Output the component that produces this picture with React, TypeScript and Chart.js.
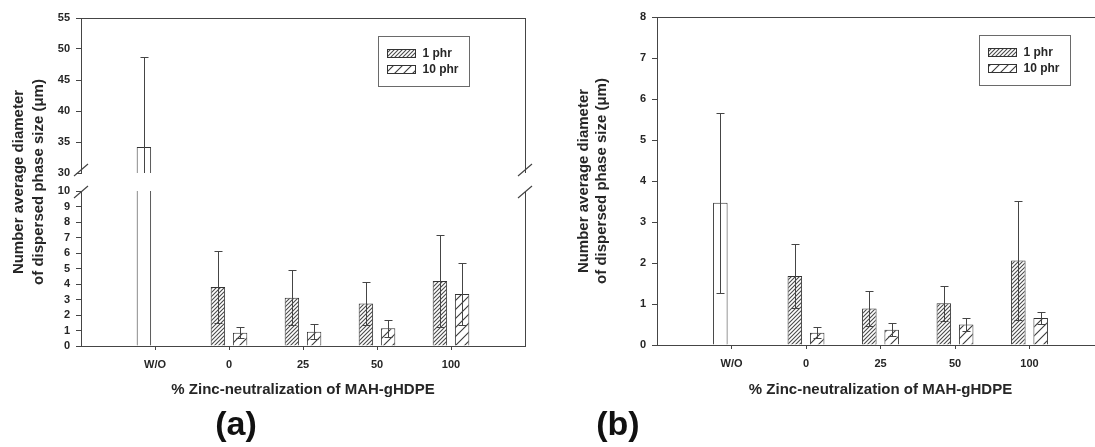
import React, { useEffect, useRef } from 'react';
import { Chart, registerables } from 'chart.js';

Chart.register(...registerables);

const FONT = '"Liberation Sans", Arial, Helvetica, sans-serif';
const INK = '#262626';
const LINE = '#454545';

// ---- data ----
const categories = ['W/O', '0', '25', '50', '100'];
const seriesNames = ['1 phr', '10 phr'];
const xTitle = '% Zinc-neutralization of MAH-gHDPE';
const yTitleLines = ['Number average diameter', 'of dispersed phase size (μm)'];

// panel (a)
const aPhr1 = [34.2, 3.8, 3.12, 2.75, 4.19];
const aPhr1Err = [14.5, 2.33, 1.78, 1.4, 2.97];
const aPhr10 = [null, 0.86, 0.92, 1.14, 3.35];
const aPhr10Err = [null, 0.35, 0.48, 0.54, 2.0];
const aLowTicks = [0, 1, 2, 3, 4, 5, 6, 7, 8, 9, 10];
const aHighTicks = [30, 35, 40, 45, 50, 55];

// panel (b)
const bPhr1 = [3.47, 1.68, 0.89, 1.02, 2.06];
const bPhr1Err = [2.2, 0.78, 0.43, 0.43, 1.46];
const bPhr10 = [null, 0.3, 0.37, 0.5, 0.66];
const bPhr10Err = [null, 0.13, 0.16, 0.17, 0.15];
const bTicks = [0, 1, 2, 3, 4, 5, 6, 7, 8];

const padArr = (arr: (number | null)[]) => [null, ...arr, null];
const xLabels = ['', ...categories, ''];

function hatch(size: number, width: number, color: string): CanvasPattern {
  const c = document.createElement('canvas');
  c.width = size;
  c.height = size;
  const g = c.getContext('2d')!;
  g.fillStyle = '#ffffff';
  g.fillRect(0, 0, size, size);
  g.strokeStyle = color;
  g.lineWidth = width;
  g.beginPath();
  g.moveTo(0, size);
  g.lineTo(size, 0);
  g.moveTo(-size / 2, size / 2);
  g.lineTo(size / 2, -size / 2);
  g.moveTo(size / 2, size * 1.5);
  g.lineTo(size * 1.5, size / 2);
  g.stroke();
  return g.createPattern(c, 'repeat')!;
}

// clip each dataset to the vertical band of its own y scale (broken axis)
const segClip = {
  id: 'segClip',
  beforeDatasetDraw(chart: any, args: any) {
    const s = args.meta.vScale;
    const a = chart.chartArea;
    chart.ctx.save();
    chart.ctx.beginPath();
    chart.ctx.rect(a.left - 4, s.top, a.right - a.left + 8, s.bottom - s.top);
    chart.ctx.clip();
  },
  afterDatasetDraw(chart: any) {
    chart.ctx.restore();
  },
};

const errorBars = {
  id: 'errorBars',
  afterDatasetsDraw(chart: any) {
    const ctx = chart.ctx;
    const a = chart.chartArea;
    chart.data.datasets.forEach((ds: any, i: number) => {
      if (!ds.errors) return;
      const meta = chart.getDatasetMeta(i);
      const s = meta.vScale;
      ctx.save();
      ctx.beginPath();
      ctx.rect(a.left, s.top - 1, a.right - a.left, s.bottom - s.top + 1);
      ctx.clip();
      ctx.strokeStyle = LINE;
      ctx.lineWidth = 1;
      meta.data.forEach((bar: any, j: number) => {
        const v = ds.data[j];
        const e = ds.errors[j];
        if (v == null || e == null) return;
        const x = Math.round(bar.x) + 0.5;
        const yTop = Math.round(s.getPixelForValue(v + e)) + 0.5;
        const yBot = Math.round(s.getPixelForValue(v - e)) + 0.5;
        ctx.beginPath();
        ctx.moveTo(x, yBot);
        ctx.lineTo(x, yTop);
        ctx.moveTo(x - 4, yTop);
        ctx.lineTo(x + 4, yTop);
        ctx.moveTo(x - 4, yBot);
        ctx.lineTo(x + 4, yBot);
        ctx.stroke();
      });
      ctx.restore();
    });
  },
};

const frame = {
  id: 'frame',
  afterDraw(chart: any, _args: any, opts: any) {
    const ctx = chart.ctx;
    const a = chart.chartArea;
    ctx.save();
    ctx.strokeStyle = LINE;
    ctx.lineWidth = 1;
    ctx.beginPath();
    ctx.moveTo(a.left, Math.round(a.top) + 0.5);
    ctx.lineTo(a.right, Math.round(a.top) + 0.5);
    (opts.segments || []).forEach((id: string) => {
      const s = chart.scales[id];
      ctx.moveTo(Math.round(a.right) + 0.5, s.top);
      ctx.lineTo(Math.round(a.right) + 0.5, s.bottom);
    });
    ctx.stroke();
    if (opts.breaks) {
      const hi = chart.scales[opts.breaks[0]];
      const lo = chart.scales[opts.breaks[1]];
      ctx.lineWidth = 1.2;
      ctx.beginPath();
      [a.left, a.right].forEach((x: number) => {
        [hi.bottom - 3, lo.top + 1].forEach((y: number) => {
          ctx.moveTo(x - 7, y + 6);
          ctx.lineTo(x + 7, y - 6);
        });
      });
      ctx.stroke();
    }
    ctx.restore();
  },
};

const yTitle = {
  id: 'yTitle',
  afterDraw(chart: any, _args: any, opts: any) {
    const ctx = chart.ctx;
    const a = chart.chartArea;
    const cy = (a.top + a.bottom) / 2;
    ctx.save();
    ctx.font = `bold 15px ${FONT}`;
    ctx.fillStyle = INK;
    ctx.textAlign = 'center';
    ctx.textBaseline = 'middle';
    opts.lines.forEach((t: string, k: number) => {
      ctx.save();
      ctx.translate(a.left + opts.offsets[k], cy);
      ctx.rotate(-Math.PI / 2);
      ctx.fillText(t, 0, 0);
      ctx.restore();
    });
    ctx.restore();
  },
};

const boxLegend = {
  id: 'boxLegend',
  afterDraw(chart: any, _args: any, opts: any) {
    const ctx = chart.ctx;
    const a = chart.chartArea;
    const x0 = Math.round(a.left + opts.dx) + 0.5;
    const y0 = Math.round(a.top + opts.dy) + 0.5;
    const items = chart.data.datasets.filter((d: any) => d.legendFill);
    ctx.save();
    ctx.strokeStyle = '#6a6a6a';
    ctx.lineWidth = 1;
    ctx.strokeRect(x0, y0, 91, 50);
    ctx.font = `bold 12px ${FONT}`;
    ctx.textBaseline = 'middle';
    ctx.textAlign = 'left';
    items.forEach((d: any, k: number) => {
      const sy = y0 + 13 + k * 16;
      ctx.fillStyle = d.legendFill;
      ctx.fillRect(x0 + 9, sy, 28, 8);
      ctx.strokeStyle = '#333';
      ctx.strokeRect(x0 + 9, sy, 28, 8);
      ctx.fillStyle = INK;
      ctx.fillText(d.label, x0 + 44, sy + 4);
    });
    ctx.restore();
  },
};

function yScale(ticks: number[], width: number, extra: any) {
  return {
    type: 'linear',
    axis: 'y',
    position: 'left',
    min: ticks[0],
    max: ticks[ticks.length - 1],
    stacked: false,
    afterBuildTicks: (s: any) => {
      s.ticks = ticks.map((v) => ({ value: v }));
    },
    grid: { drawOnChartArea: false, drawTicks: true, tickLength: 5, color: LINE },
    border: { display: true, color: LINE, width: 1 },
    ticks: { font: { family: FONT, size: 11, weight: 'bold' }, color: INK, padding: 6, autoSkip: false },
    afterFit: (s: any) => {
      s.width = width;
    },
    ...extra,
  };
}

function xScale(height: number) {
  return {
    type: 'category',
    offset: false,
    grid: {
      offset: false,
      drawOnChartArea: false,
      drawTicks: true,
      tickLength: 4,
      color: (c: any) => (c.index === 0 || c.index === xLabels.length - 1 ? 'rgba(0,0,0,0)' : LINE),
    },
    border: { display: true, color: LINE, width: 1 },
    ticks: {
      font: { family: FONT, size: 11, weight: 'bold' },
      color: INK,
      padding: 8,
      autoSkip: false,
      maxRotation: 0,
    },
    title: {
      display: true,
      text: xTitle,
      font: { family: FONT, size: 15, weight: 'bold' },
      color: INK,
      padding: { top: 0, bottom: 11 },
    },
    afterFit: (s: any) => {
      s.height = height;
    },
  };
}

function fill1(p1: CanvasPattern) {
  return (c: any) => (xLabels[c.dataIndex] === 'W/O' ? '#ffffff' : p1);
}

function barCommon() {
  return {
    borderColor: '#333333',
    borderWidth: 1,
    borderSkipped: 'start',
    categoryPercentage: 0.6,
    barPercentage: 0.65,
  };
}

export default function App() {
  const refA = useRef<HTMLCanvasElement>(null);
  const refB = useRef<HTMLCanvasElement>(null);

  useEffect(() => {
    const p1 = hatch(4, 1.1, '#4a4a4a');
    const p10 = hatch(9, 1.1, '#3a3a3a');

    const chartA = new Chart(refA.current!, {
      type: 'bar',
      data: {
        labels: xLabels,
        datasets: [
          { label: seriesNames[0], data: padArr(aPhr1), errors: padArr(aPhr1Err), yAxisID: 'yLow', stack: 's1', backgroundColor: fill1(p1), legendFill: p1, ...barCommon() },
          { label: seriesNames[1], data: padArr(aPhr10), errors: padArr(aPhr10Err), yAxisID: 'yLow', stack: 's2', backgroundColor: p10, legendFill: p10, ...barCommon() },
          { label: seriesNames[0] + ' (upper)', data: padArr(aPhr1), errors: padArr(aPhr1Err), yAxisID: 'yHigh', stack: 's1', backgroundColor: fill1(p1), ...barCommon() },
          { label: seriesNames[1] + ' (upper)', data: padArr(aPhr10), errors: padArr(aPhr10Err), yAxisID: 'yHigh', stack: 's2', backgroundColor: p10, ...barCommon() },
        ] as any,
      },
      options: {
        responsive: false,
        animation: false,
        layout: { padding: { top: 18, right: 20, left: 0, bottom: 0 } },
        plugins: {
          legend: { display: false },
          tooltip: { enabled: false },
          frame: { segments: ['yHigh', 'yLow'], breaks: ['yHigh', 'yLow'] },
          yTitle: { lines: yTitleLines, offsets: [-62, -42] },
          boxLegend: { dx: 297, dy: 18 },
        } as any,
        scales: {
          x: xScale(64),
          yHigh: yScale(aHighTicks, 81, { stack: 'ya', stackWeight: 155, weight: 3 }),
          yGap: { type: 'linear', axis: 'y', position: 'left', display: false, min: 10, max: 30, stack: 'ya', stackWeight: 18, weight: 2 },
          yLow: yScale(aLowTicks, 81, { stack: 'ya', stackWeight: 155, weight: 1 }),
        } as any,
      },
      plugins: [segClip, errorBars, frame, yTitle, boxLegend],
    } as any);

    const chartB = new Chart(refB.current!, {
      type: 'bar',
      data: {
        labels: xLabels,
        datasets: [
          { label: seriesNames[0], data: padArr(bPhr1), errors: padArr(bPhr1Err), yAxisID: 'y', stack: 's1', backgroundColor: fill1(p1), legendFill: p1, ...barCommon() },
          { label: seriesNames[1], data: padArr(bPhr10), errors: padArr(bPhr10Err), yAxisID: 'y', stack: 's2', backgroundColor: p10, legendFill: p10, ...barCommon() },
        ] as any,
      },
      options: {
        responsive: false,
        animation: false,
        layout: { padding: { top: 17, right: 16, left: 0, bottom: 0 } },
        plugins: {
          legend: { display: false },
          tooltip: { enabled: false },
          frame: { segments: ['y'] },
          yTitle: { lines: yTitleLines, offsets: [-73, -55] },
          boxLegend: { dx: 322, dy: 18 },
        } as any,
        scales: {
          x: xScale(65),
          y: yScale(bTicks, 97, {}),
        } as any,
      },
      plugins: [segClip, errorBars, frame, yTitle, boxLegend],
    } as any);

    return () => {
      chartA.destroy();
      chartB.destroy();
    };
  }, []);

  const panelLabel: React.CSSProperties = {
    position: 'absolute',
    top: 403,
    width: 80,
    textAlign: 'center',
    font: `bold 34px ${FONT}`,
    color: '#111',
    lineHeight: '40px',
  };

  return (
    <div style={{ position: 'absolute', left: 0, top: 0, width: 1095, height: 447, overflow: 'hidden', background: '#fff' }}>
      <canvas ref={refA} width={545} height={410} style={{ position: 'absolute', left: 0, top: 0 }} />
      <canvas ref={refB} width={560} height={410} style={{ position: 'absolute', left: 560, top: 0 }} />
      <div style={{ ...panelLabel, left: 236 - 40 }}>(a)</div>
      <div style={{ ...panelLabel, left: 618 - 40 }}>(b)</div>
    </div>
  );
}
